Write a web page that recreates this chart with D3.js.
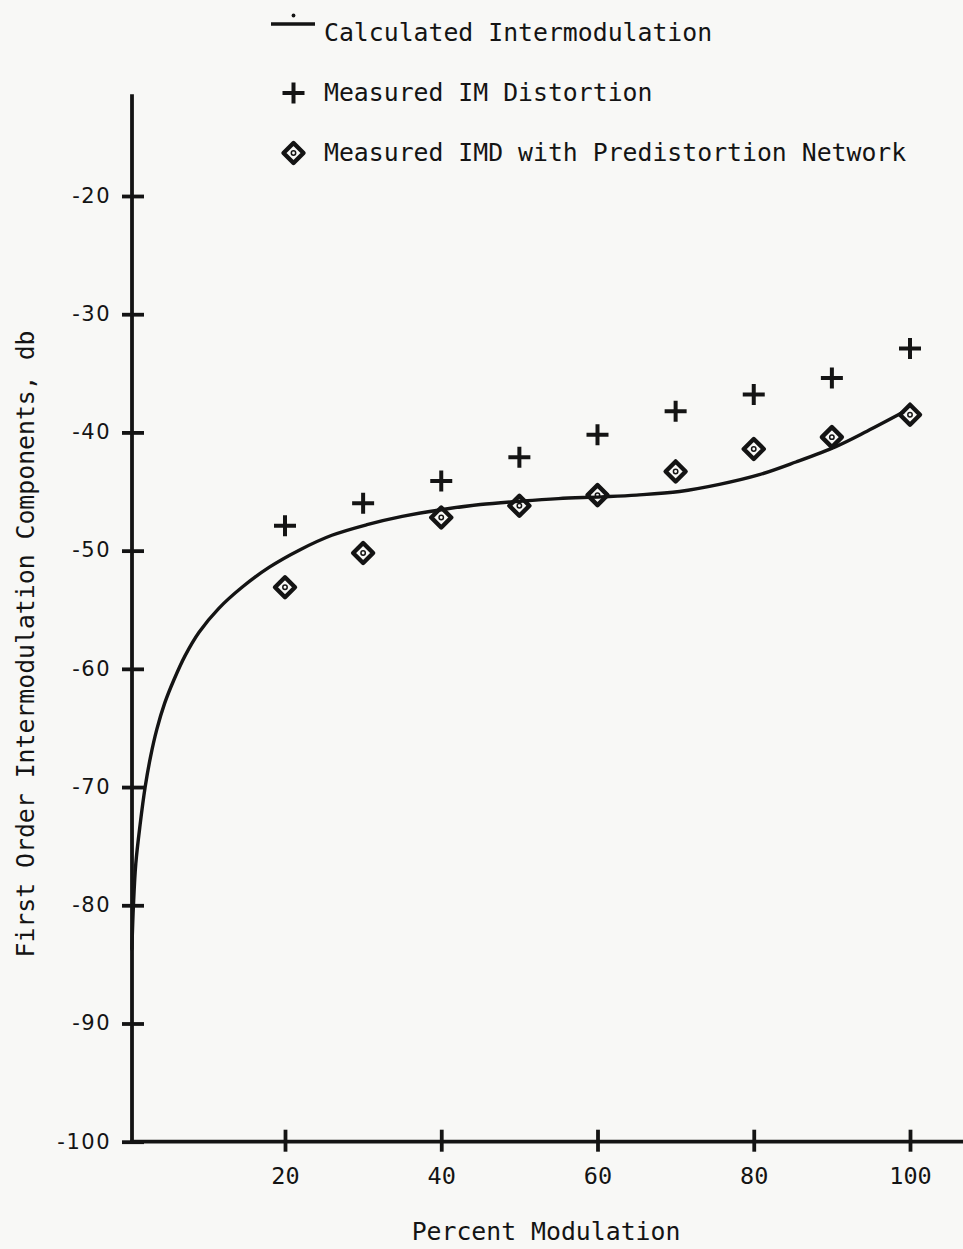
<!DOCTYPE html>
<html><head><meta charset="utf-8">
<script src="https://cdn.jsdelivr.net/npm/d3@7"></script>
<style>body{margin:0;background:#f8f8f6}svg{display:block}</style>
</head><body><svg id="c" width="963" height="1249"></svg>
<script>
// ---- data ----
const xTicks = [20, 40, 60, 80, 100];
const yTicks = [-20, -30, -40, -50, -60, -70, -80, -90, -100];
const measuredX = [20, 30, 40, 50, 60, 70, 80, 90, 100];
const measuredIM = [-47.9, -46.0, -44.1, -42.1, -40.2, -38.2, -36.8, -35.4, -32.9];
const predistIMD = [-53.1, -50.2, -47.2, -46.2, -45.3, -43.3, -41.4, -40.4, -38.5];
const calcX = [0.4, 0.6, 0.9, 1.45, 2.1, 2.8, 3.6, 4.6, 5.8, 7.2, 9.0, 11.5, 14.5, 18, 22, 26, 30.5, 35, 40.4, 45, 50.4, 55, 60.5, 65, 70.5, 75.6, 80.6, 85.4, 90.5, 94.5, 99.1];
const calcY = [-83.7, -80, -76.5, -73.2, -70, -67.4, -65.1, -62.9, -60.9, -58.9, -56.9, -54.9, -53.1, -51.4, -49.9, -48.7, -47.8, -47.1, -46.5, -46.1, -45.8, -45.6, -45.45, -45.3, -45.0, -44.4, -43.6, -42.5, -41.2, -39.9, -38.3];
const legendLabels = ["Calculated Intermodulation", "Measured IM Distortion", "Measured IMD with Predistortion Network"];
const xTitle = "Percent Modulation";
const yTitle = "First Order Intermodulation Components, db";

// ---- setup ----
const ink = "#141414";
const svg = d3.select("#c");
const x = d3.scaleLinear().domain([0, 100]).range([128.75, 910]);
const y = d3.scaleLinear().domain([-100, -20]).range([1141.7, 196]);
const axisX = 132;
const mono = "'DejaVu Sans Mono', monospace";

// y axis
svg.append("line").attr("x1", axisX).attr("x2", axisX)
  .attr("y1", y(-11.4)).attr("y2", y(-100) + 1.8)
  .attr("stroke", ink).attr("stroke-width", 3.8);
const ya = svg.append("g").attr("transform", `translate(${axisX},0)`)
  .call(d3.axisLeft(y).tickValues(yTicks).tickFormat(d => String(d)));
ya.select(".domain").remove();
ya.selectAll(".tick line").attr("x1", -10).attr("x2", 12).attr("stroke", ink).attr("stroke-width", 3.8);
ya.selectAll(".tick text").attr("x", -21).attr("dy", "0.3em")
  .attr("fill", ink).attr("font-family", "'DejaVu Sans', sans-serif")
  .attr("font-size", 21).attr("letter-spacing", "1.5px");

// x axis
svg.append("line").attr("x1", axisX - 1.9).attr("x2", 963)
  .attr("y1", y(-100)).attr("y2", y(-100))
  .attr("stroke", ink).attr("stroke-width", 3.8);
const xa = svg.append("g").attr("transform", `translate(0,${y(-100)})`)
  .call(d3.axisBottom(x).tickValues(xTicks).tickFormat(d => String(d)));
xa.select(".domain").remove();
xa.selectAll(".tick line").attr("y1", -12).attr("y2", 10).attr("stroke", ink).attr("stroke-width", 3.8);
xa.selectAll(".tick text").attr("y", 42).attr("dy", 0)
  .attr("fill", ink).attr("font-family", mono).attr("font-size", 23.5);

// titles
svg.append("text").attr("x", 546).attr("y", 1240).attr("text-anchor", "middle")
  .attr("font-family", mono).attr("font-size", 24.8).attr("fill", ink).text(xTitle);
svg.append("text").attr("transform", "translate(34,644) rotate(-90)").attr("text-anchor", "middle")
  .attr("font-family", mono).attr("font-size", 24.8).attr("fill", ink).text(yTitle);

// calculated curve
const calc = calcX.map((d, i) => [d, calcY[i]]);
svg.append("path").datum(calc)
  .attr("d", d3.line().x(d => x(d[0])).y(d => y(d[1])).curve(d3.curveCatmullRom.alpha(0.5)))
  .attr("fill", "none").attr("stroke", ink).attr("stroke-width", 3.4)
  .attr("stroke-linecap", "round");

// marker drawers
function plus(g, cx, cy) {
  g.append("path").attr("d", `M${cx - 11},${cy}H${cx + 11}M${cx},${cy - 10.5}V${cy + 10.5}`)
    .attr("stroke", ink).attr("stroke-width", 4).attr("fill", "none");
}
function diamond(g, cx, cy) {
  g.append("path").attr("d", `M${cx},${cy - 10}L${cx + 10},${cy}L${cx},${cy + 10}L${cx - 10},${cy}Z`)
    .attr("stroke", ink).attr("stroke-width", 4.4).attr("fill", "none").attr("stroke-linejoin", "round");
  g.append("circle").attr("cx", cx).attr("cy", cy).attr("r", 2.2)
    .attr("stroke", ink).attr("stroke-width", 1.5).attr("fill", "none");
}

const mg = svg.append("g");
measuredX.forEach((d, i) => plus(mg, x(d), y(measuredIM[i])));
measuredX.forEach((d, i) => diamond(mg, x(d), y(predistIMD[i])));

// legend
const lg = svg.append("g");
lg.append("line").attr("x1", 271).attr("x2", 315).attr("y1", 24).attr("y2", 24)
  .attr("stroke", ink).attr("stroke-width", 3.6);
lg.append("circle").attr("cx", 293.5).attr("cy", 15.5).attr("r", 1.9).attr("fill", ink);
plus(lg, 293.5, 93);
diamond(lg, 293.5, 153);
legendLabels.forEach((t, i) => {
  lg.append("text").attr("x", 324).attr("y", 41 + i * 60)
    .attr("font-family", mono).attr("font-size", 24.8).attr("fill", ink).text(t);
});
</script>
</body></html>
